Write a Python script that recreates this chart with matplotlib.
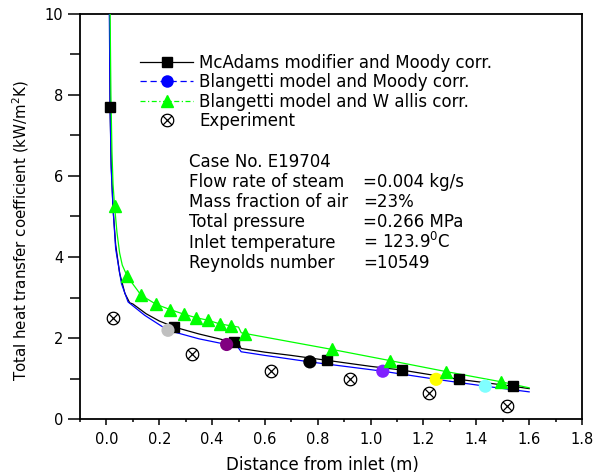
import matplotlib
matplotlib.use("Agg")
import matplotlib.pyplot as plt
from matplotlib.path import Path
from matplotlib.lines import Line2D
import numpy as np

plt.rcParams['font.family'] = ['DejaVu Sans']
plt.rcParams['mathtext.default'] = 'regular'

# ---- data ----
mcadams_x = [0.012, 0.014, 0.018, 0.025, 0.035, 0.05, 0.07, 0.088, 0.10, 0.15, 0.20, 0.257,
             0.35, 0.42, 0.482, 0.50, 0.51, 0.60, 0.70, 0.833, 1.0, 1.117, 1.333, 1.537, 1.60]
mcadams_y = [10.0, 7.7, 6.3, 5.2, 4.3, 3.6, 3.1, 2.87, 2.84, 2.6, 2.42, 2.27,
             2.10, 1.99, 1.89, 1.87, 1.74, 1.65, 1.57, 1.45, 1.30, 1.21, 0.98, 0.81, 0.75]
mcadams_mx = [0.014, 0.257, 0.482, 0.833, 1.117, 1.333, 1.537]
mcadams_my = [7.7, 2.27, 1.89, 1.45, 1.21, 0.98, 0.81]

blmoody_x = [0.011, 0.014, 0.018, 0.025, 0.035, 0.057, 0.082, 0.145, 0.233, 0.35, 0.455,
             0.497, 0.51, 0.60, 0.77, 1.046, 1.248, 1.434, 1.60]
blmoody_y = [10.0, 7.6, 6.2, 5.2, 4.2, 3.34, 2.89, 2.56, 2.19, 1.98, 1.84,
             1.78, 1.66, 1.57, 1.41, 1.18, 0.98, 0.81, 0.67]
blmoody_mx = [0.233, 0.455, 0.77, 1.046, 1.248, 1.434]
blmoody_my = [2.19, 1.84, 1.41, 1.18, 0.98, 0.81]
blmoody_mc = ['#c0c0c0', '#800080', '#000000', '#8020ff', '#ffff00', '#80ffff']

blwallis_x = [0.014, 0.017, 0.021, 0.025, 0.031, 0.04, 0.05, 0.06, 0.079, 0.132, 0.189, 0.242,
              0.292, 0.34, 0.384, 0.428, 0.472, 0.50, 0.51, 0.526, 0.852, 1.075, 1.286, 1.493, 1.60]
blwallis_y = [10.0, 8.0, 6.6, 5.8, 5.25, 4.6, 4.1, 3.8, 3.52, 3.05, 2.83, 2.70,
              2.59, 2.50, 2.44, 2.35, 2.30, 2.27, 2.13, 2.11, 1.72, 1.44, 1.17, 0.92, 0.77]
blwallis_mx = [0.031, 0.079, 0.132, 0.189, 0.242, 0.292, 0.34, 0.384, 0.428, 0.472,
               0.526, 0.852, 1.075, 1.286, 1.493]
blwallis_my = [5.25, 3.52, 3.05, 2.83, 2.70, 2.59, 2.50, 2.44, 2.35, 2.30,
               2.11, 1.72, 1.44, 1.17, 0.92]

exp_x = [0.025, 0.325, 0.623, 0.921, 1.22, 1.518]
exp_y = [2.5, 1.61, 1.18, 0.985, 0.63, 0.32]

legend_labels = ["McAdams modifier and Moody corr.",
                 "Blangetti model and Moody corr.",
                 "Blangetti model and W allis corr.",
                 "Experiment"]

info_labels = ["Case No. E19704", "Flow rate of steam", "Mass fraction of air",
               "Total pressure", "Inlet temperature", "Reynolds number"]
info_values = ["", "=0.004 kg/s", "=23%", "=0.266 MPa", "= 123.9$^0$C", "=10549"]

# ---- figure ----
W, H = 605, 473
fig = plt.figure(figsize=(W / 100, H / 100), dpi=100)
ax = fig.add_axes([80 / W, 1 - 419 / H, (582 - 80) / W, (419 - 14) / H])

green = '#00ff00'
ax.plot(mcadams_x, mcadams_y, color='black', lw=0.9, zorder=3)
ax.plot(mcadams_mx, mcadams_my, ls='none', marker='s', ms=6.5, color='black', zorder=4)
ax.plot(blmoody_x, blmoody_y, color='#0000ff', lw=0.9, zorder=3)
ax.scatter(blmoody_mx, blmoody_my, s=90, c=blmoody_mc, marker='o', edgecolors='none', zorder=4)
ax.plot(blwallis_x, blwallis_y, color=green, lw=0.9, zorder=3)
ax.plot(blwallis_mx, blwallis_my, ls='none', marker='^', ms=8, color=green, zorder=4)

# circle with X marker
t = np.linspace(0, 2 * np.pi, 40)
circ = Path(np.column_stack([np.cos(t), np.sin(t)]))
d = 0.707
cross = Path([(-d, -d), (d, d), (-d, d), (d, -d)],
             [Path.MOVETO, Path.LINETO, Path.MOVETO, Path.LINETO])
oxmark = Path.make_compound_path(circ, cross)
ax.plot(exp_x, exp_y, ls='none', marker=oxmark, ms=9, mfc='none', mec='black', mew=0.9, zorder=4)

ax.set_xlim(-0.1, 1.8)
ax.set_ylim(0, 10)
ax.set_xticks(np.arange(0, 1.81, 0.2))
ax.set_xticklabels([f"{v:.1f}" for v in np.arange(0, 1.81, 0.2)])
ax.set_xticks(np.arange(-0.1, 1.8, 0.2), minor=True)
ax.set_yticks([0, 2, 4, 6, 8, 10])
ax.set_yticks([1, 3, 5, 7, 9], minor=True)
ax.tick_params(axis='x', which='major', direction='out', length=4.2, width=1.1, labelsize=10.5, pad=5.5)
ax.tick_params(axis='x', which='minor', direction='out', length=2.5, width=1.1)
ax.tick_params(axis='y', which='major', direction='out', length=8.3, width=1.1, labelsize=10.5, pad=3.6)
ax.tick_params(axis='y', which='minor', direction='out', length=7.5, width=1.1)
for s in ax.spines.values():
    s.set_linewidth(1.3)

ax.set_xlabel("Distance from inlet (m)", fontsize=12)
ax.xaxis.set_label_coords(0.482, -0.092)
ax.set_ylabel("Total heat transfer coefficient (kW/m$^2$K)", fontsize=10.8)
ax.yaxis.set_label_coords(-0.097, 0.464)

handles = [
    Line2D([], [], color='black', lw=0.9, marker='s', ms=6.5),
    Line2D([], [], color='#0000ff', lw=0.9, ls=(0, (5, 3)), marker='o', ms=9, mec='none'),
    Line2D([], [], color=green, lw=0.9, ls=(0, (4, 2, 1, 2)), marker='^', ms=8),
    Line2D([], [], ls='none', marker=oxmark, ms=9, mfc='none', mec='black', mew=0.9),
]
fig.legend(handles, legend_labels, loc='upper left',
           bbox_to_anchor=(140 / W, 1 - 54 / H), frameon=False, fontsize=12,
           handlelength=3.2, handletextpad=0.35, labelspacing=0.08,
           borderpad=0, borderaxespad=0, numpoints=1)

baselines = [167, 187, 207, 227, 247.5, 267.5]
for lab, val, yb in zip(info_labels, info_values, baselines):
    fig.text(189 / W, 1 - yb / H, lab, fontsize=12, va='baseline', ha='left')
    if val:
        fig.text(363 / W, 1 - yb / H, val, fontsize=12, va='baseline', ha='left')

fig.savefig("out.png", dpi=100)
